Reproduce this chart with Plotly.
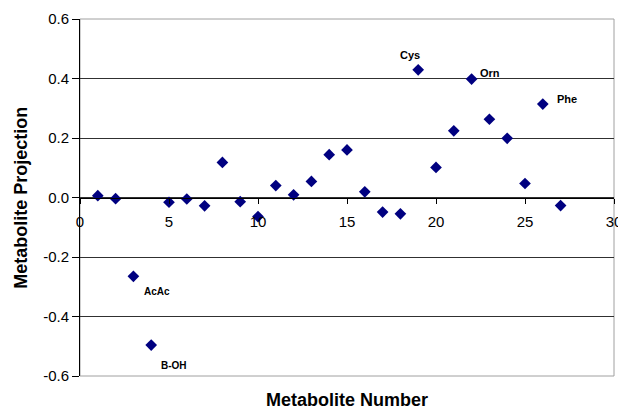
import plotly.graph_objects as go

# Metabolite projections by metabolite number
metabolite_number = list(range(1, 28))
projection = [0.006, -0.004, -0.265, -0.496, -0.016, -0.005, -0.028, 0.118, -0.014,
              -0.064, 0.040, 0.009, 0.054, 0.144, 0.160, 0.019, -0.049, -0.055,
              0.429, 0.101, 0.224, 0.398, 0.263, 0.199, 0.047, 0.314, -0.027]

# Named metabolites: number -> label
labelled = {3: "AcAc", 4: "B-OH", 19: "Cys", 22: "Orn", 26: "Phe"}
label_offsets = {  # (xanchor, xshift, yshift, size)
    "AcAc": ("left", 9, -15, 10),
    "B-OH": ("left", 8, -20, 10),
    "Cys": ("center", -8, 15, 11),
    "Orn": ("left", 6, 6, 11),
    "Phe": ("left", 12, 5, 11),
}

y_ticks = [0.6, 0.4, 0.2, 0.0, -0.2, -0.4, -0.6]
x_ticks = [0, 5, 10, 15, 20, 25, 30]

font = "Liberation Sans, Arial, sans-serif"

fig = go.Figure()
fig.add_trace(go.Scatter(
    x=metabolite_number, y=projection, mode="markers",
    marker=dict(symbol="diamond", size=9, color="#000080", line=dict(width=0)),
    showlegend=False, cliponaxis=False,
))

for num, name in labelled.items():
    xa, xs, ys, sz = label_offsets[name]
    fig.add_annotation(
        x=num, y=projection[num - 1], xref="x", yref="y", text=f"<b>{name}</b>",
        showarrow=False, xanchor=xa, yanchor="middle", xshift=xs, yshift=ys,
        font=dict(family=font, size=sz, color="black"),
    )

# Plot-area border (gray) drawn beneath the axes
fig.add_shape(type="rect", xref="paper", yref="paper", x0=0, y0=0, x1=1, y1=1,
              line=dict(color="#a0a0a0", width=1), layer="below")

fig.update_xaxes(
    range=[0, 30], tickvals=x_ticks, ticktext=[str(v) for v in x_ticks],
    anchor="free", position=0.5, showline=True, linecolor="black", linewidth=1,
    ticks="outside", ticklen=5, tickcolor="black", showgrid=False, zeroline=False,
    ticklabeloverflow="allow", ticklabelstandoff=5, automargin=False,
    tickfont=dict(family=font, size=15, color="black"),
)
fig.update_yaxes(
    range=[-0.6, 0.6], tickvals=y_ticks, ticktext=[f"{v:.1f}" for v in y_ticks],
    showline=True, linecolor="black", linewidth=1, ticks="outside", ticklen=7,
    tickcolor="black", showgrid=True, gridcolor="#303030", gridwidth=1,
    zeroline=False, automargin=False,
    tickfont=dict(family=font, size=15, color="black"),
)

fig.add_annotation(text="<b>Metabolite Number</b>", xref="paper", yref="paper",
                   x=0.5, y=-0.068, xanchor="center", yanchor="middle", showarrow=False,
                   font=dict(family=font, size=18, color="black"))
fig.add_annotation(text="<b>Metabolite Projection</b>", xref="paper", yref="paper",
                   x=-0.112, y=0.5, xanchor="center", yanchor="middle", textangle=-90,
                   showarrow=False, font=dict(family=font, size=18, color="black"))

fig.update_layout(
    width=618, height=413, margin=dict(l=80, r=4, t=19, b=37),
    plot_bgcolor="white", paper_bgcolor="white",
)

fig.write_html("out.html")
